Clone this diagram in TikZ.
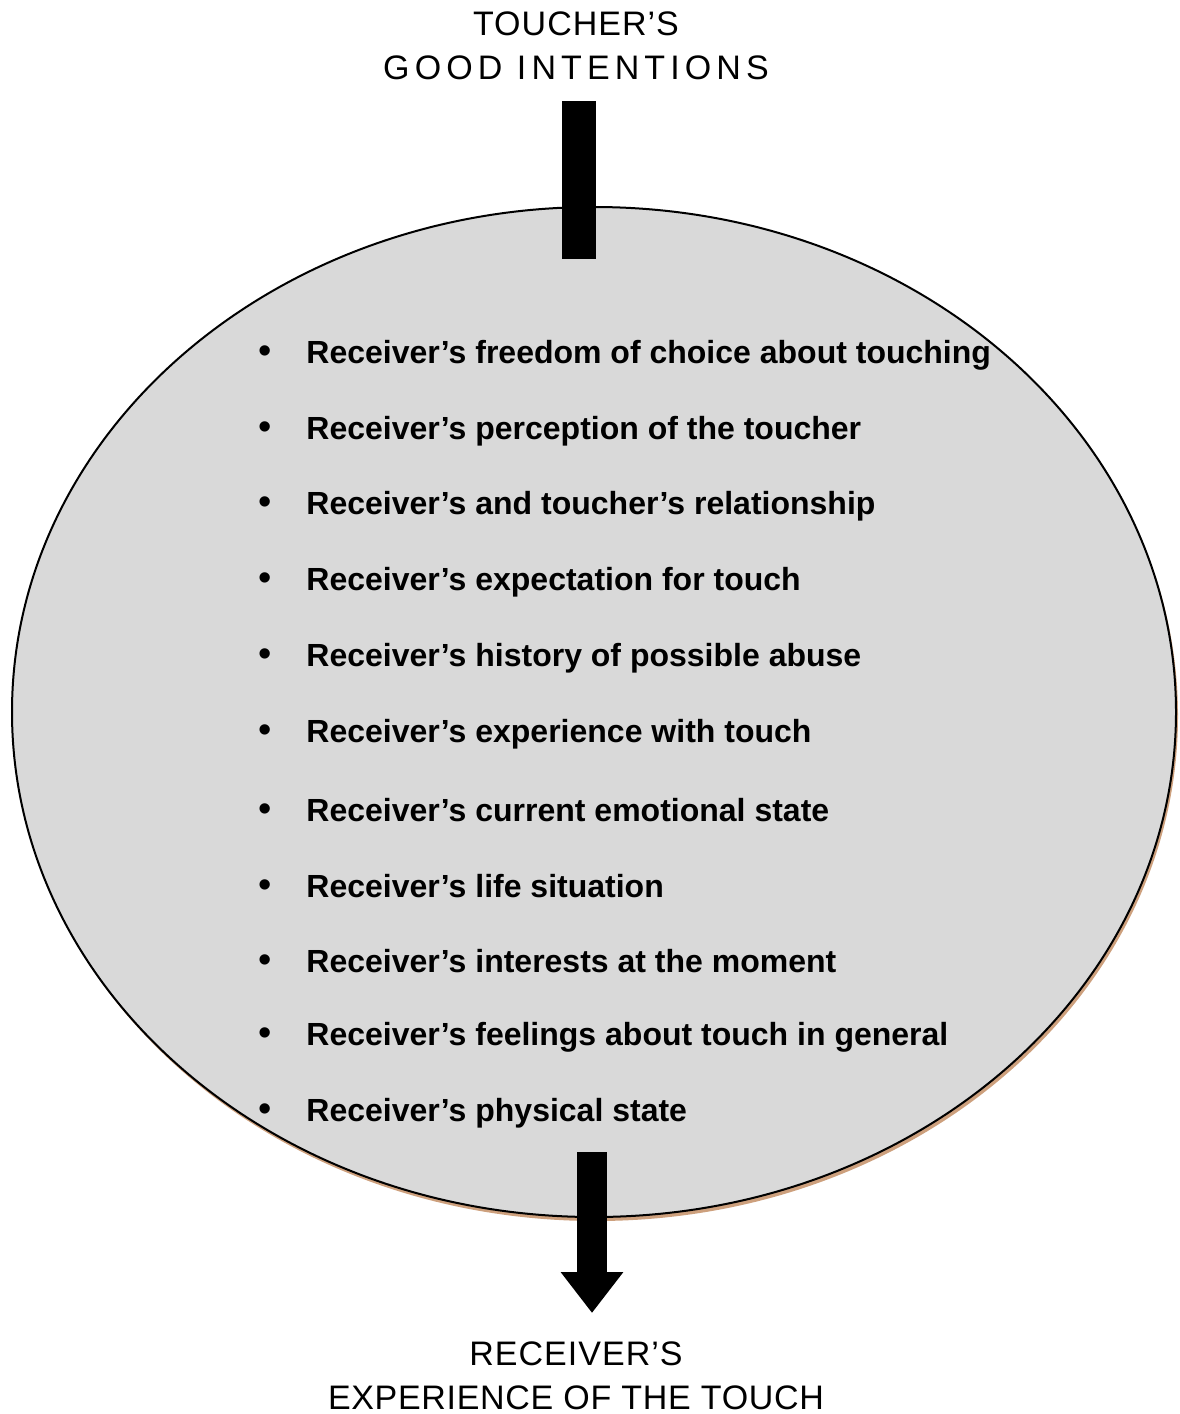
\documentclass[tikz,border=0pt]{standalone}
\usepackage{fontspec}
\setmainfont{Liberation Sans}
\newcommand\spaced[2]{{\addfontfeatures{LetterSpace=#1}#2}}
\usetikzlibrary{arrows.meta,positioning}
\definecolor{ovalgray}{RGB}{217,217,217}
\definecolor{ovalshade}{RGB}{205,160,125}

\begin{document}
\begin{tikzpicture}[x=0.5pt,y=-0.5pt,
  heading/.style={font=\fontsize{17}{22}\selectfont, align=center, inner sep=1pt},
  item/.style={font=\bfseries\fontsize{16}{19}\selectfont, anchor=west, inner sep=0pt},
  dot/.style={font=\fontsize{19}{19}\selectfont, inner sep=0pt, anchor=base},
  bar/.style={line width=17pt},
  flow/.style={line width=15pt, -{Triangle[width=30pt,length=20.5pt]}}]
\useasboundingbox (0,0) rectangle (1179,1414);

% oval with its shadow
\fill[ovalshade] (596,716) ellipse [x radius=582, y radius=505];
\filldraw[fill=ovalgray, draw=black, line width=1pt] (594,712) ellipse [x radius=582, y radius=505];

\node[heading] (top) at (576,46) {\spaced{3}{TOUCHER’S}\\\spaced{15}{GOOD INTENTIONS}};
\node[heading] (bottom) at (576,1376) {\spaced{3}{RECEIVER’S}\\\spaced{2}{EXPERIENCE OF THE TOUCH}};

\foreach \t [count=\i] in {Receiver’s freedom of choice about touching,
  Receiver’s perception of the toucher,
  Receiver’s and toucher’s relationship,
  Receiver’s expectation for touch,
  Receiver’s history of possible abuse,
  Receiver’s experience with touch,
  Receiver’s current emotional state,
  Receiver’s life situation,
  Receiver’s interests at the moment,
  Receiver’s feelings about touch in general,
  Receiver’s physical state}
{
  \node[item] (item\i) at (306,{355+75.8*(\i-1)}) {\t};
  \node[dot] (dot\i) at ([xshift=-20.5pt]item\i.base west) {•};
}

\coordinate (intop) at (579,101);
\coordinate (inend) at (579,259);
\coordinate (outtop) at (592,1152);
\coordinate (outend) at (592,1313);
\draw[bar] (intop) -- (inend);
\draw[flow] (outtop) -- (outend);
\end{tikzpicture}
\end{document}
